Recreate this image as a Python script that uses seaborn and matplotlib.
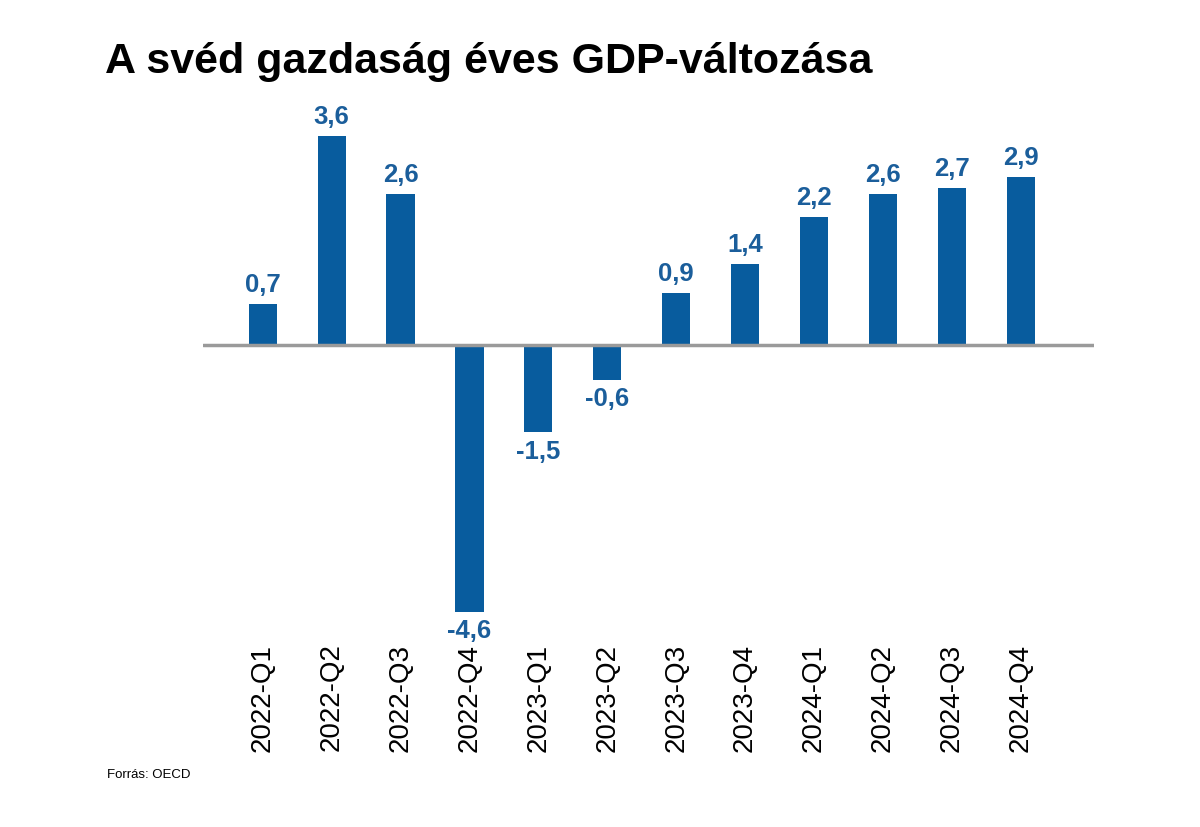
import matplotlib
matplotlib.use("Agg")
import matplotlib.pyplot as plt
import seaborn as sns
import pandas as pd

categories = ["2022-Q1", "2022-Q2", "2022-Q3", "2022-Q4", "2023-Q1", "2023-Q2",
              "2023-Q3", "2023-Q4", "2024-Q1", "2024-Q2", "2024-Q3", "2024-Q4"]
values = [0.7, 3.6, 2.6, -4.6, -1.5, -0.6, 0.9, 1.4, 2.2, 2.6, 2.7, 2.9]
title = "A svéd gazdaság éves GDP-változása"
source = "Forrás: OECD"

sns.set_style("white")
plt.rcParams["font.family"] = ["Liberation Sans", "DejaVu Sans"]

df = pd.DataFrame({"q": categories, "v": values})

fig = plt.figure(figsize=(12, 8.27), dpi=100)
ax = fig.add_axes([0.169, 0.2285, 0.743, 0.6506])

bar_color = "#085C9E"
sns.barplot(data=df, x="q", y="v", color=bar_color, width=0.41, saturation=1,
            ax=ax, edgecolor="none")

ax.set_xlim(-0.87, 12.07)
ax.set_ylim(-5.05, 4.22)
ax.axhline(0, color="#9a9a9a", lw=2.5, zorder=3)

for i, v in enumerate(values):
    txt = f"{v:.1f}".replace(".", ",")
    if v >= 0:
        ax.text(i, v + 0.12, txt, ha="center", va="bottom", fontsize=18.5,
                fontweight="bold", color="#1B5E9B")
    else:
        ax.text(i, v - 0.13, txt, ha="center", va="top", fontsize=18.5,
                fontweight="bold", color="#1B5E9B")

for s in ax.spines.values():
    s.set_visible(False)
ax.set_yticks([])
ax.set_xlabel("")
ax.set_ylabel("")
ax.tick_params(axis="x", length=0, pad=4, labelsize=20, labelcolor="black")
for lbl in ax.get_xticklabels():
    lbl.set_rotation(90)
    lbl.set_va("top")
    lbl.set_ha("center")

fig.text(105 / 1200, 1 - 62 / 827, title, fontsize=31, fontweight="bold",
         ha="left", va="center", color="black")
fig.text(107 / 1200, 1 - 775 / 827, source, fontsize=9.5, ha="left",
         va="center", color="black")

fig.savefig("out.png", dpi=100)
